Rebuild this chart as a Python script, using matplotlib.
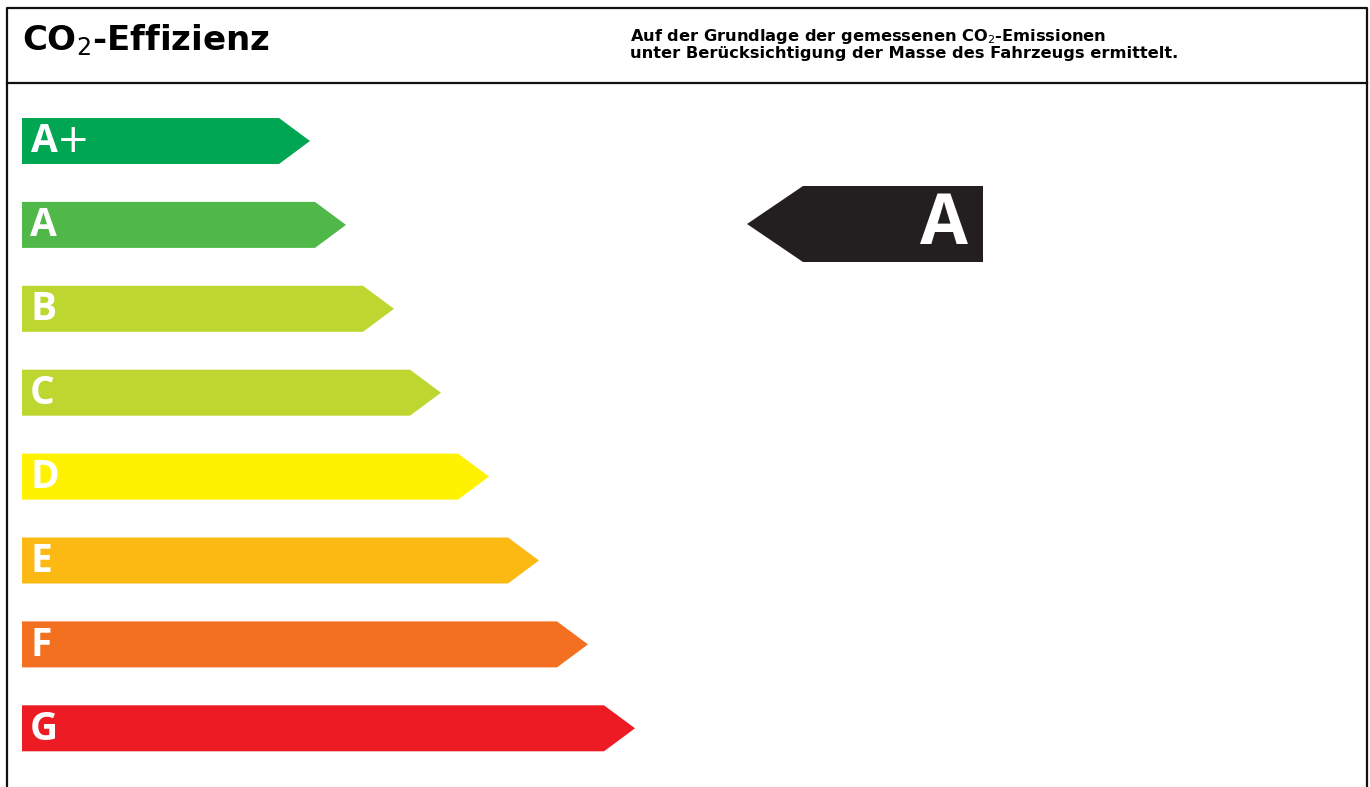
import matplotlib
matplotlib.use("Agg")
import matplotlib.pyplot as plt
from matplotlib.patches import Polygon

# ---- data ----
classes = ["A+", "A", "B", "C", "D", "E", "F", "G"]
class_labels = ["A$+$", "A", "B", "C", "D", "E", "F", "G"]
bar_lengths = [257, 293, 341, 388, 436, 486, 535, 582]   # rectangular body length
class_colors = ["#00A651", "#50B848", "#BED630", "#BED630",
                "#FFF200", "#FDB913", "#F37021", "#ED1C24"]
vehicle_class = "A"
title = "CO$_2$-Effizienz"
subtitle = ["Auf der Grundlage der gemessenen CO$_2$-Emissionen",
            "unter Berücksichtigung der Masse des Fahrzeugs ermittelt."]

W, H = 1370, 787
fig = plt.figure(figsize=(W / 100, H / 100), dpi=100)
ax = fig.add_axes([0, 0, 1, 1])
ax.set_xlim(0, W)
ax.set_ylim(H, 0)
ax.axis("off")

# frame
ax.plot([7, 7, 1367, 1367], [800, 8, 8, 800], color="#111111", lw=1.6, solid_capstyle="butt")
ax.plot([7, 1367], [83, 83], color="#111111", lw=1.6)

ax.text(22, 40, title, fontsize=24.5, fontweight="bold", family="DejaVu Sans",
        va="center", ha="left", color="black")
ax.text(630, 44, "\n".join(subtitle), fontsize=11.7, fontweight="bold",
        family="DejaVu Sans", va="center", ha="left", linespacing=1.05, color="black")

x0 = 22
bar_h = 46
tip = 31
top0 = 118
step = 83.9
for i, (lab, length, col) in enumerate(zip(class_labels, bar_lengths, class_colors)):
    top = top0 + i * step
    bot = top + bar_h
    mid = (top + bot) / 2
    xe = x0 + length
    poly = Polygon([(x0, top), (xe, top), (xe + tip, mid), (xe, bot), (x0, bot)],
                   closed=True, facecolor=col, edgecolor="none")
    ax.add_patch(poly)
    ax.text(x0 + 8, mid + 1, lab, fontsize=28, fontweight="bold", family="Open Sans",
            color="white", va="center", ha="left")

# indicator arrow
ind_idx = classes.index(vehicle_class)
itop, ibot = 186, 262
imid = (itop + ibot) / 2
ileft_tip, irect_left, iright = 747, 803, 983
ax.add_patch(Polygon([(ileft_tip, imid), (irect_left, itop), (iright, itop),
                      (iright, ibot), (irect_left, ibot)], closed=True,
                     facecolor="#231F20", edgecolor="none"))
ax.text(iright - 15, imid + 2, classes[ind_idx], fontsize=50, fontweight="bold",
        family="Open Sans", color="white", va="center", ha="right")

fig.savefig("out.png", dpi=100)
